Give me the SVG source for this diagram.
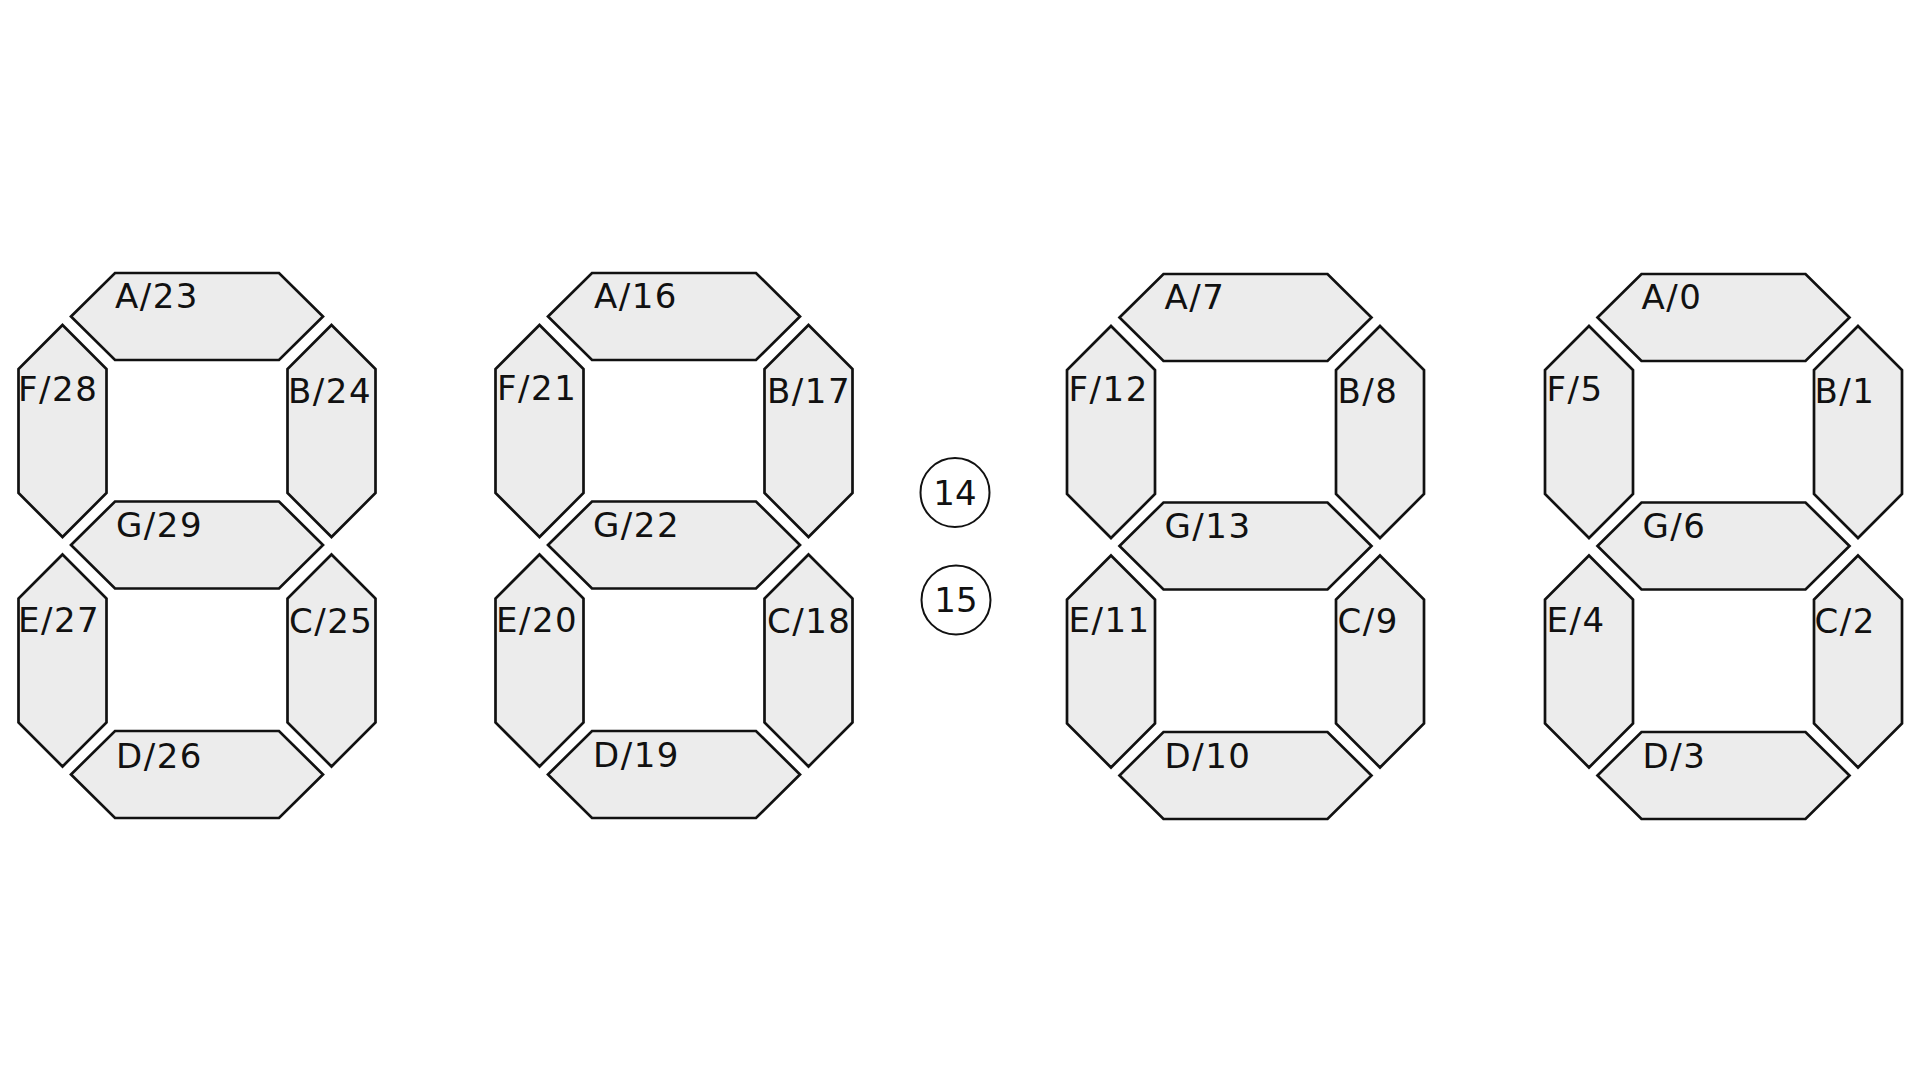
<svg xmlns="http://www.w3.org/2000/svg" xmlns:xlink="http://www.w3.org/1999/xlink" width="1920" height="1080" viewBox="0 0 1920 1080">
<style>
.seg{fill:#ececec;stroke:#111;stroke-width:2.7;stroke-linejoin:miter}
.lbl{font-family:"DejaVu Sans",Verdana,sans-serif;font-size:34px;letter-spacing:1.5px;fill:#111}
.dot{fill:#fff;stroke:#111;stroke-width:2}
.dl{font-family:"DejaVu Sans",Verdana,sans-serif;font-size:34px;fill:#111;text-anchor:middle}
</style>
<defs>
<polygon id="segH" class="seg" points="0,0 44,-43.5 208,-43.5 252,0 208,43.5 44,43.5"/>
<polygon id="segV" class="seg" points="0,0 44,44 44,168 0,212 -44,168 -44,44"/>
</defs>
<rect width="1920" height="1080" fill="#fff"/>

<g id="digit1">
<g id="d1-A"><use href="#segH" x="71" y="316.5"/><text class="lbl" x="115" y="308">A/23</text></g>
<g id="d1-B"><use href="#segV" x="331.5" y="325"/><text class="lbl" x="288" y="403">B/24</text></g>
<g id="d1-C"><use href="#segV" x="331.5" y="554.5"/><text class="lbl" x="289" y="633">C/25</text></g>
<g id="d1-D"><use href="#segH" x="71" y="774.5"/><text class="lbl" x="116" y="768">D/26</text></g>
<g id="d1-E"><use href="#segV" x="62.5" y="554.5"/><text class="lbl" x="18" y="632">E/27</text></g>
<g id="d1-F"><use href="#segV" x="62.5" y="325"/><text class="lbl" x="18" y="401">F/28</text></g>
<g id="d1-G"><use href="#segH" x="71" y="545"/><text class="lbl" x="116" y="537">G/29</text></g>
</g>

<g id="digit2" transform="translate(477,0)">
<g id="d2-A"><use href="#segH" x="71" y="316.5"/><text class="lbl" x="117" y="308">A/16</text></g>
<g id="d2-B"><use href="#segV" x="331.5" y="325"/><text class="lbl" x="290" y="403">B/17</text></g>
<g id="d2-C"><use href="#segV" x="331.5" y="554.5"/><text class="lbl" x="290" y="633">C/18</text></g>
<g id="d2-D"><use href="#segH" x="71" y="774.5"/><text class="lbl" x="116" y="767">D/19</text></g>
<g id="d2-E"><use href="#segV" x="62.5" y="554.5"/><text class="lbl" x="19" y="632">E/20</text></g>
<g id="d2-F"><use href="#segV" x="62.5" y="325"/><text class="lbl" x="20" y="400">F/21</text></g>
<g id="d2-G"><use href="#segH" x="71" y="545"/><text class="lbl" x="116" y="537">G/22</text></g>
</g>

<g id="colon">
<g id="dot14"><circle class="dot" cx="955" cy="492.5" r="34.5"/><text class="dl" x="955" y="505">14</text></g>
<g id="dot15"><circle class="dot" cx="956" cy="600" r="34.5"/><text class="dl" x="956" y="612">15</text></g>
</g>

<g id="digit3" transform="translate(1048.5,1)">
<g id="d3-A"><use href="#segH" x="71" y="316.5"/><text class="lbl" x="116" y="308">A/7</text></g>
<g id="d3-B"><use href="#segV" x="331.5" y="325"/><text class="lbl" x="289" y="402">B/8</text></g>
<g id="d3-C"><use href="#segV" x="331.5" y="554.5"/><text class="lbl" x="289" y="632">C/9</text></g>
<g id="d3-D"><use href="#segH" x="71" y="774.5"/><text class="lbl" x="116" y="767">D/10</text></g>
<g id="d3-E"><use href="#segV" x="62.5" y="554.5"/><text class="lbl" x="20" y="631">E/11</text></g>
<g id="d3-F"><use href="#segV" x="62.5" y="325"/><text class="lbl" x="20" y="400">F/12</text></g>
<g id="d3-G"><use href="#segH" x="71" y="545"/><text class="lbl" x="116" y="537">G/13</text></g>
</g>

<g id="digit4" transform="translate(1526.5,1)">
<g id="d4-A"><use href="#segH" x="71" y="316.5"/><text class="lbl" x="115" y="308">A/0</text></g>
<g id="d4-B"><use href="#segV" x="331.5" y="325"/><text class="lbl" x="288" y="402">B/1</text></g>
<g id="d4-C"><use href="#segV" x="331.5" y="554.5"/><text class="lbl" x="288" y="632">C/2</text></g>
<g id="d4-D"><use href="#segH" x="71" y="774.5"/><text class="lbl" x="116" y="767">D/3</text></g>
<g id="d4-E"><use href="#segV" x="62.5" y="554.5"/><text class="lbl" x="20" y="631">E/4</text></g>
<g id="d4-F"><use href="#segV" x="62.5" y="325"/><text class="lbl" x="20" y="400">F/5</text></g>
<g id="d4-G"><use href="#segH" x="71" y="545"/><text class="lbl" x="116" y="537">G/6</text></g>
</g>

<g id="connectors"/>
</svg>
